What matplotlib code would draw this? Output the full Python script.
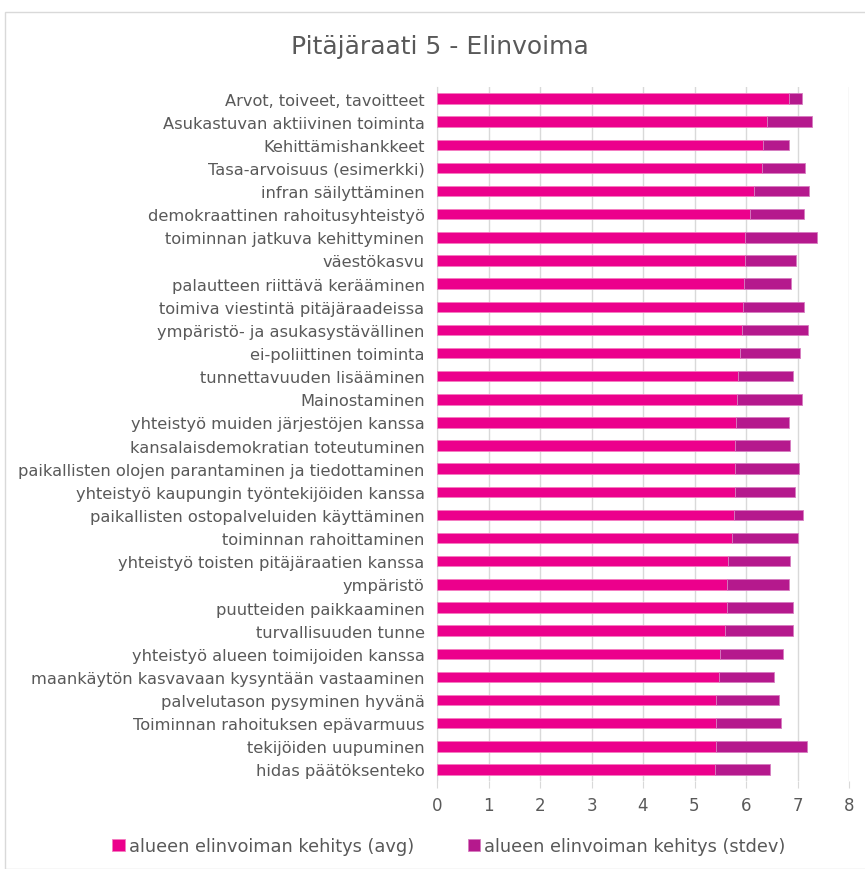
import numpy as np
import matplotlib.pyplot as plt
from matplotlib.patches import Rectangle

# categories, top to bottom as in the chart
labels = [
    "Arvot, toiveet, tavoitteet",
    "Asukastuvan aktiivinen toiminta",
    "Kehittämishankkeet",
    "Tasa-arvoisuus (esimerkki)",
    "infran säilyttäminen",
    "demokraattinen rahoitusyhteistyö",
    "toiminnan jatkuva kehittyminen",
    "väestökasvu",
    "palautteen riittävä kerääminen",
    "toimiva viestintä pitäjäraadeissa",
    "ympäristö- ja asukasystävällinen",
    "ei-poliittinen toiminta",
    "tunnettavuuden lisääminen",
    "Mainostaminen",
    "yhteistyö muiden järjestöjen kanssa",
    "kansalaisdemokratian toteutuminen",
    "paikallisten olojen parantaminen ja tiedottaminen",
    "yhteistyö kaupungin työntekijöiden kanssa",
    "paikallisten ostopalveluiden käyttäminen",
    "toiminnan rahoittaminen",
    "yhteistyö toisten pitäjäraatien kanssa",
    "ympäristö",
    "puutteiden paikkaaminen",
    "turvallisuuden tunne",
    "yhteistyö alueen toimijoiden kanssa",
    "maankäytön kasvavaan kysyntään vastaaminen",
    "palvelutason pysyminen hyvänä",
    "Toiminnan rahoituksen epävarmuus",
    "tekijöiden uupuminen",
    "hidas päätöksenteko",
]

avg = [6.84, 6.40, 6.33, 6.31, 6.16, 6.08, 5.98, 5.98, 5.97, 5.95,
       5.92, 5.88, 5.84, 5.83, 5.80, 5.78, 5.78, 5.78, 5.76, 5.73,
       5.65, 5.63, 5.63, 5.60, 5.49, 5.48, 5.42, 5.41, 5.41, 5.39]

stdev = [0.24, 0.88, 0.51, 0.83, 1.06, 1.04, 1.39, 0.99, 0.90, 1.17,
         1.28, 1.17, 1.07, 1.25, 1.04, 1.07, 1.24, 1.18, 1.34, 1.27,
         1.20, 1.21, 1.28, 1.31, 1.22, 1.07, 1.22, 1.27, 1.77, 1.08]

series_names = ["alueen elinvoiman kehitys (avg)", "alueen elinvoiman kehitys (stdev)"]

pink = "#EC008C"
purple = "#B5198D"
text_col = "#595959"

plt.rcParams['font.family'] = ['DejaVu Sans']

fig = plt.figure(figsize=(8.65, 8.70), dpi=100)
# axes box in figure fractions: 437..849 px wide, 87..781 px tall
ax = fig.add_axes([437 / 865, 1 - 782 / 870, (849 - 437) / 865, (782 - 88) / 870])

y = np.arange(len(labels))
ax.barh(y, avg, height=0.45, color=pink, edgecolor="#F47CC0", linewidth=0.6,
        label=series_names[0], zorder=3)
ax.barh(y, stdev, left=avg, height=0.45, color=purple, edgecolor="#D67CC0", linewidth=0.6,
        label=series_names[1], zorder=3)

ax.set_yticks(y)
ax.set_yticklabels(labels)
ax.set_ylim(len(labels) - 0.5, -0.5)
ax.set_xlim(0, 8)
ax.set_xticks(range(0, 9))

ax.grid(axis="x", color="#D9D9D9", linewidth=1, zorder=0)
for s in ["top", "right", "bottom"]:
    ax.spines[s].set_visible(False)
ax.spines["left"].set_color("#D9D9D9")
ax.tick_params(axis="y", length=0, pad=9, labelsize=11.7, labelcolor=text_col)
ax.tick_params(axis="x", length=5, color="#D9D9D9", pad=6, labelsize=12, labelcolor=text_col)

fig.text(440 / 865, 1 - 47 / 870, "Pitäjäraati 5 - Elinvoima", ha="center", va="center",
         fontsize=18, color=text_col)

fig.legend(loc="center", bbox_to_anchor=(449 / 865, 1 - 847 / 870), ncol=2, frameon=False,
           fontsize=12.8, labelcolor=text_col, handlelength=0.7, handleheight=0.7,
           handletextpad=0.25, columnspacing=3.0)

# light border round the chart area
fig.patches.append(Rectangle((5 / 865, 0), 1, 1 - 13 / 870, transform=fig.transFigure,
                             fill=False, edgecolor="#D9D9D9", linewidth=1))

plt.savefig("out.png", dpi=100)
